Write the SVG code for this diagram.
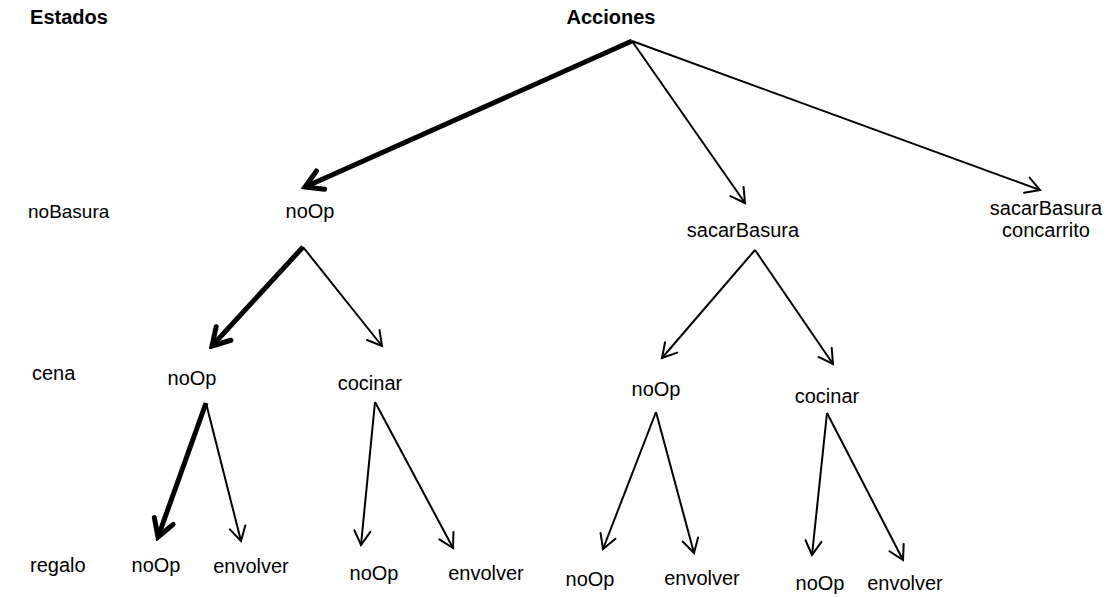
<svg xmlns="http://www.w3.org/2000/svg" width="1111" height="597" viewBox="0 0 1111 597">
  <style>
    text { font-family: "Liberation Sans", Arial, sans-serif; font-size: 20px; fill: #000; }
    .head { font-weight: bold; }
    .mid { text-anchor: middle; }
    .edge { fill: none; stroke: #000; stroke-width: 2; }
    .edge.bold { stroke-width: 5; }
  </style>
  <defs>
    <marker id="arrow" viewBox="-20 -12 24 24" refX="0" refY="0" markerWidth="24" markerHeight="24" markerUnits="userSpaceOnUse" orient="auto">
      <path d="M-14,-8 L0,0 L-14,8" fill="none" stroke="#000" stroke-width="2" stroke-linecap="round" stroke-linejoin="miter"/>
    </marker>
    <marker id="arrowBold" viewBox="-24 -14 28 28" refX="0" refY="0" markerWidth="28" markerHeight="28" markerUnits="userSpaceOnUse" orient="auto">
      <path d="M-17,-10 L0,0 L-17,10" fill="none" stroke="#000" stroke-width="5" stroke-linecap="round" stroke-linejoin="miter"/>
    </marker>
  </defs>

  <rect width="1111" height="597" fill="#fff"/>

  <!-- column headings -->
  <g id="headings">
    <text class="head mid" x="69" y="24">Estados</text>
    <text class="head mid" x="611" y="24">Acciones</text>
  </g>

  <!-- state labels -->
  <g id="states">
    <text x="28" y="218" style="font-size:19px">noBasura</text>
    <text x="32" y="380">cena</text>
    <text x="30" y="572">regalo</text>
  </g>

  <!-- level 1 actions -->
  <g id="n1-noOp"><text class="mid" x="310" y="218">noOp</text></g>
  <g id="n1-sacarBasura"><text class="mid" x="743" y="237">sacarBasura</text></g>
  <g id="n1-sacarBasuraConcarrito">
    <text class="mid" x="1046" y="215">sacarBasura</text>
    <text class="mid" x="1046" y="237">concarrito</text>
  </g>

  <!-- level 2 actions -->
  <g id="n2-noOp-a"><text class="mid" x="192" y="385">noOp</text></g>
  <g id="n2-cocinar-a"><text class="mid" x="370" y="390">cocinar</text></g>
  <g id="n2-noOp-b"><text class="mid" x="656" y="396">noOp</text></g>
  <g id="n2-cocinar-b"><text class="mid" x="827" y="403">cocinar</text></g>

  <!-- level 3 actions -->
  <g id="n3-noOp-a"><text class="mid" x="156" y="572">noOp</text></g>
  <g id="n3-envolver-a"><text class="mid" x="251" y="573">envolver</text></g>
  <g id="n3-noOp-b"><text class="mid" x="374" y="580">noOp</text></g>
  <g id="n3-envolver-b"><text class="mid" x="486" y="580">envolver</text></g>
  <g id="n3-noOp-c"><text class="mid" x="590" y="586">noOp</text></g>
  <g id="n3-envolver-c"><text class="mid" x="702" y="585">envolver</text></g>
  <g id="n3-noOp-d"><text class="mid" x="820" y="590">noOp</text></g>
  <g id="n3-envolver-d"><text class="mid" x="905" y="590">envolver</text></g>

  <!-- connectors -->
  <g id="connectors">
    <line class="edge bold" x1="632" y1="41" x2="305" y2="187" marker-end="url(#arrowBold)"/>
    <line class="edge" x1="632" y1="41" x2="745" y2="203" marker-end="url(#arrow)"/>
    <line class="edge" x1="632" y1="41" x2="1040" y2="190" marker-end="url(#arrow)"/>

    <line class="edge bold" x1="303" y1="247" x2="212" y2="346" marker-end="url(#arrowBold)"/>
    <line class="edge" x1="303" y1="247" x2="382" y2="346" marker-end="url(#arrow)"/>

    <line class="edge bold" x1="206" y1="403" x2="158" y2="537" marker-end="url(#arrowBold)"/>
    <line class="edge" x1="206" y1="403" x2="241" y2="541" marker-end="url(#arrow)"/>
    <line class="edge" x1="375" y1="402" x2="361" y2="545" marker-end="url(#arrow)"/>
    <line class="edge" x1="375" y1="402" x2="453" y2="548" marker-end="url(#arrow)"/>

    <line class="edge" x1="755" y1="250" x2="662" y2="358" marker-end="url(#arrow)"/>
    <line class="edge" x1="755" y1="250" x2="833" y2="364" marker-end="url(#arrow)"/>

    <line class="edge" x1="656" y1="412" x2="603" y2="549" marker-end="url(#arrow)"/>
    <line class="edge" x1="656" y1="412" x2="694" y2="553" marker-end="url(#arrow)"/>
    <line class="edge" x1="827" y1="413" x2="812" y2="555" marker-end="url(#arrow)"/>
    <line class="edge" x1="827" y1="413" x2="903" y2="560" marker-end="url(#arrow)"/>
  </g>
</svg>
